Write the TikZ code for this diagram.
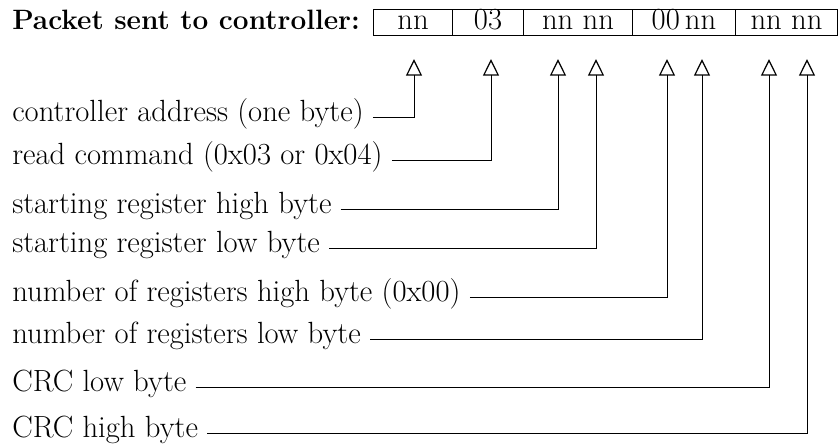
\documentclass[tikz,border=0pt]{standalone}
\usetikzlibrary{arrows.meta}
\begin{document}
\begin{tikzpicture}[x=0.75pt,y=-0.75pt,
  txt/.style={font=\fontsize{23}{27}\selectfont, inner sep=0pt},
  lab/.style={txt, anchor=base west},
  cell/.style={txt, draw, line width=0.8pt, anchor=north west, text height=15pt, text depth=4.5pt, inner xsep=0pt, inner ysep=0pt},
  conn/.style={line width=0.75pt, -{Triangle[open,length=12.5pt,width=12pt,line width=0.9pt]}}]
\useasboundingbox (0,0) rectangle (840,444);
% title
\node[lab, font=\fontsize{21}{25}\selectfont\bfseries] (title) at (12,29) {Packet sent to controller:};
% packet cells
\node[cell, minimum width=59.25pt] (c1) at (373,9) {nn};
\node[cell, minimum width=53.25pt] (c2) at (452,9) {03};
\node[cell, minimum width=81.75pt] (c3) at (523,9) {nn nn};
\node[cell, minimum width=77.25pt] (c4) at (632,9) {00\,nn};
\node[cell, minimum width=76.5pt] (c5) at (735,9) {nn nn};
% arrow tips
\coordinate (t1) at (414,59);
\coordinate (t2) at (491,59);
\coordinate (t3) at (558,59);
\coordinate (t4) at (596,59);
\coordinate (t5) at (667,59);
\coordinate (t6) at (702,59);
\coordinate (t7) at (769,59);
\coordinate (t8) at (807,59);
% labels
\node[lab] (l1) at (12,121) {controller address (one byte)};
\node[lab] (l2) at (12,164) {read command (0x03 or 0x04)};
\node[lab] (l3) at (12,213) {starting register high byte};
\node[lab] (l4) at (12,252) {starting register low byte};
\node[lab] (l5) at (12,301) {number of registers high byte (0x00)};
\node[lab] (l6) at (12,343) {number of registers low byte};
\node[lab] (l7) at (12,391) {CRC low byte};
\node[lab] (l8) at (12,437) {CRC high byte};
% connectors
\foreach \i in {1,...,8}{
  \draw[conn] ([shift={(9,-4)}]l\i.base east) -| (t\i);
}
\end{tikzpicture}
\end{document}
